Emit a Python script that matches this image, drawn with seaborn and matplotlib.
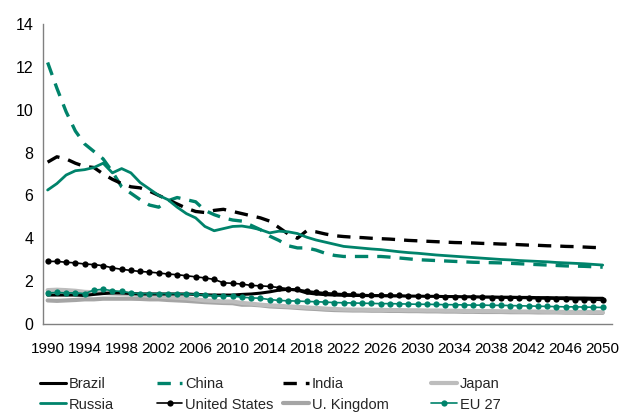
import numpy as np
import pandas as pd
import seaborn as sns
import matplotlib.pyplot as plt

years = list(range(1990, 2051))

brazil = [1.35, 1.35, 1.35, 1.35, 1.33, 1.38, 1.42, 1.45, 1.45, 1.42,
          1.40, 1.40, 1.40, 1.40, 1.40, 1.40, 1.38, 1.36, 1.35, 1.35,
          1.35, 1.38, 1.40, 1.44, 1.50, 1.58, 1.62, 1.58, 1.45, 1.40,
          1.37, 1.35, 1.34, 1.33, 1.33, 1.32, 1.32, 1.31, 1.31, 1.30,
          1.30, 1.29, 1.29, 1.28, 1.28, 1.27, 1.27, 1.26, 1.26, 1.25,
          1.25, 1.24, 1.24, 1.23, 1.23, 1.22, 1.22, 1.21, 1.21, 1.20,
          1.20]
china = [12.2, 11.0, 9.9, 9.0, 8.4, 8.05, 7.7, 7.1, 6.4, 6.1,
         5.8, 5.55, 5.45, 5.75, 5.9, 5.8, 5.7, 5.3, 5.1, 4.95,
         4.85, 4.8, 4.6, 4.4, 4.1, 3.9, 3.65, 3.55, 3.55, 3.45,
         3.3, 3.2, 3.15, 3.15, 3.15, 3.15, 3.15, 3.12, 3.08, 3.04,
         3.0, 2.98, 2.96, 2.94, 2.92, 2.9, 2.88, 2.87, 2.86, 2.85,
         2.83, 2.81, 2.79, 2.77, 2.75, 2.73, 2.71, 2.7, 2.69, 2.67,
         2.65]
india = [7.55, 7.8, 7.7, 7.5, 7.35, 7.3, 7.0, 6.75, 6.55, 6.4,
         6.35, 6.2, 6.0, 5.8, 5.6, 5.4, 5.25, 5.2, 5.3, 5.35,
         5.25, 5.15, 5.05, 4.95, 4.8, 4.5, 4.2, 4.0, 4.35, 4.3,
         4.2, 4.12, 4.08, 4.05, 4.03, 4.0, 3.98, 3.96, 3.93, 3.9,
         3.88, 3.86, 3.84, 3.82, 3.8, 3.79, 3.78, 3.76, 3.75, 3.73,
         3.72, 3.7, 3.68, 3.67, 3.65, 3.64, 3.62, 3.61, 3.59, 3.57,
         3.56]
japan = [1.58, 1.6, 1.58, 1.55, 1.5, 1.48, 1.45, 1.42, 1.4, 1.38,
         1.35, 1.3, 1.28, 1.25, 1.22, 1.2, 1.15, 1.1, 1.08, 1.05,
         1.05, 0.98, 0.95, 0.9, 0.87, 0.85, 0.82, 0.8, 0.77, 0.75,
         0.72, 0.7, 0.68, 0.67, 0.67, 0.66, 0.66, 0.65, 0.65, 0.64,
         0.64, 0.63, 0.63, 0.62, 0.62, 0.61, 0.61, 0.6, 0.6, 0.59,
         0.59, 0.58, 0.58, 0.58, 0.57, 0.57, 0.56, 0.56, 0.56, 0.55,
         0.55]
russia = [6.25, 6.55, 6.95, 7.15, 7.2, 7.3, 7.5, 7.05, 7.25, 7.05,
          6.6, 6.3, 6.0, 5.8, 5.45, 5.15, 4.95, 4.55, 4.35, 4.45,
          4.55, 4.57, 4.5, 4.4, 4.25, 4.33, 4.3, 4.22, 4.05, 3.92,
          3.82, 3.72, 3.62, 3.58, 3.54, 3.5, 3.47, 3.42, 3.37, 3.33,
          3.3, 3.26, 3.22, 3.19, 3.16, 3.13, 3.1, 3.07, 3.04, 3.01,
          2.99, 2.96, 2.94, 2.92, 2.9, 2.87, 2.85, 2.83, 2.81, 2.78,
          2.75]
usa = [2.92, 2.92, 2.88, 2.85, 2.8, 2.77, 2.72, 2.62, 2.55, 2.5,
       2.45, 2.42, 2.38, 2.33, 2.3, 2.25, 2.2, 2.15, 2.08, 1.92,
       1.9, 1.86, 1.8, 1.78, 1.75, 1.7, 1.65, 1.62, 1.55, 1.5,
       1.46, 1.43, 1.41, 1.39, 1.37, 1.36, 1.35, 1.34, 1.33, 1.32,
       1.31, 1.3, 1.29, 1.28, 1.27, 1.26, 1.25, 1.24, 1.23, 1.22,
       1.21, 1.2, 1.19, 1.18, 1.17, 1.16, 1.15, 1.14, 1.13, 1.12,
       1.1]
uk = [1.1, 1.08, 1.1, 1.12, 1.15, 1.15, 1.18, 1.18, 1.18, 1.18,
      1.17, 1.15, 1.15, 1.12, 1.1, 1.08, 1.05, 1.02, 1.0, 0.98,
      0.97, 0.9, 0.9, 0.87, 0.82, 0.8, 0.78, 0.75, 0.72, 0.7,
      0.67, 0.65, 0.64, 0.63, 0.63, 0.62, 0.62, 0.61, 0.61, 0.6,
      0.6, 0.59, 0.59, 0.58, 0.58, 0.57, 0.57, 0.56, 0.56, 0.56,
      0.55, 0.55, 0.55, 0.54, 0.54, 0.54, 0.53, 0.53, 0.53, 0.52,
      0.52]
eu27 = [1.45, 1.47, 1.45, 1.45, 1.42, 1.58, 1.62, 1.55, 1.52, 1.45,
        1.42, 1.42, 1.42, 1.42, 1.42, 1.4, 1.38, 1.35, 1.32, 1.3,
        1.3, 1.25, 1.22, 1.2, 1.14, 1.1, 1.08, 1.07, 1.05, 1.04,
        1.02, 1.0, 0.99, 0.98, 0.97, 0.96, 0.95, 0.95, 0.94, 0.93,
        0.92, 0.92, 0.91, 0.9, 0.9, 0.89, 0.88, 0.88, 0.87, 0.87,
        0.86, 0.85, 0.84, 0.83, 0.82, 0.81, 0.8, 0.8, 0.79, 0.78,
        0.77]

teal = '#00836b'
sns.set_style('white')
plt.rcParams['font.family'] = ['Liberation Sans', 'DejaVu Sans']
tsize = 11

fig = plt.figure(figsize=(6.27, 4.12), dpi=100)
ax = fig.add_axes([0.0686, 0.2136, 0.9074, 0.7284])

# (label, values, color, dashes, lw, marker)
series = [
    ('U. Kingdom', uk, '#a5a5a5', None, 3.0, None),
    ('Japan', japan, '#bdbdbd', None, 3.0, None),
    ('Brazil', brazil, 'black', None, 2.2, None),
    ('EU 27', eu27, teal, None, 1.2, 'o'),
    ('United States', usa, 'black', None, 1.2, 'o'),
    ('China', china, teal, (4, 2.7), 2.4, None),
    ('India', india, 'black', (4, 2.7), 2.4, None),
    ('Russia', russia, teal, None, 2.0, None),
]
handles = {}
for name, vals, col, dash, lw, mk in series:
    df = pd.DataFrame({'year': years, 'val': vals})
    kw = dict(x='year', y='val', data=df, color=col, lw=lw, ax=ax)
    if mk:
        kw.update(marker=mk, markersize=4.5, markeredgewidth=0)
    sns.lineplot(**kw)
    ln = ax.lines[-1]
    if dash:
        ln.set_dashes(dash)
    handles[name] = ln

ax.set_xlim(1989.5, 2051)
ax.set_ylim(0, 14)
ax.set_xticks(range(1990, 2051, 4))
ax.set_yticks(range(0, 15, 2))
ax.set_xlabel('')
ax.set_ylabel('')
for s in ['top', 'right']:
    ax.spines[s].set_visible(False)
for s in ['left', 'bottom']:
    ax.spines[s].set_color('#808080')
    ax.spines[s].set_linewidth(1)
ax.tick_params(axis='both', direction='in', length=4, color='#bfbfbf',
               labelcolor='black')
ax.tick_params(axis='x', pad=13, labelsize=tsize)
ax.tick_params(axis='y', pad=7, labelsize=tsize + 0.5)

# legend: four fixed columns, two rows each
cols = [(['Brazil', 'Russia'], 0.064), (['China', 'United States'], 0.25),
        (['India', 'U. Kingdom'], 0.452), (['Japan', 'EU 27'], 0.688)]
for names, x0 in cols:
    fig.legend([handles[n] for n in names], names, loc='upper left',
               bbox_to_anchor=(x0, 0.084), frameon=False, fontsize=10.5,
               handlelength=1.75, handletextpad=0.2, labelspacing=0.42,
               borderpad=0, borderaxespad=0)

fig.savefig('out.png', dpi=100)
